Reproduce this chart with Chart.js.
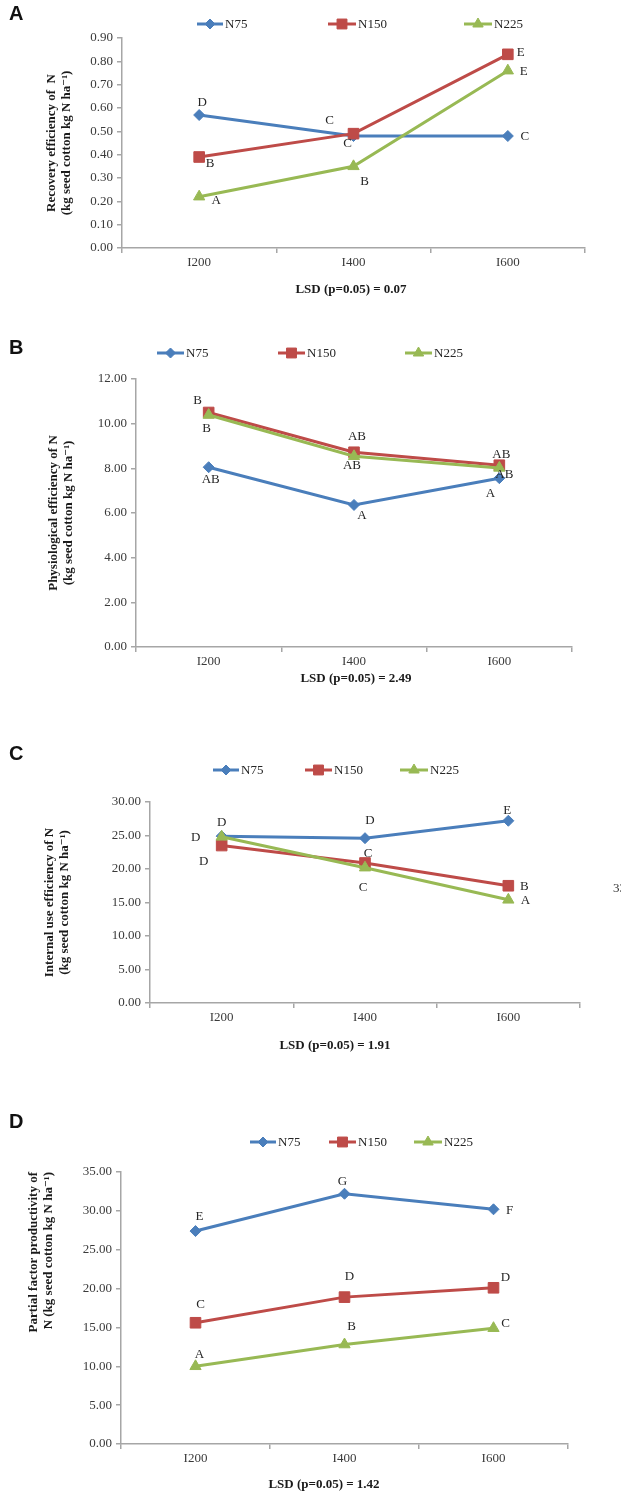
<!DOCTYPE html>
<html><head><meta charset="utf-8">
<script src="https://cdn.jsdelivr.net/npm/chart.js@4.4.1/dist/chart.umd.min.js"></script>
<style>
html,body{margin:0;padding:0;background:#fff;}
body{width:621px;height:1493px;position:relative;overflow:hidden;}
.panel{position:absolute;left:0;width:621px;}
canvas{display:block;}
.tag{position:absolute;left:9px;font:bold 20px "Liberation Sans",Arial,sans-serif;color:#111;line-height:20px;}
.pg{position:absolute;font:13px "Liberation Serif","Times New Roman",serif;color:#333;line-height:13px;white-space:nowrap;}
</style></head><body>
<div class="panel" style="top:0px"><canvas id="cA" width="621" height="300"></canvas></div>
<div class="panel" style="top:300px"><canvas id="cB" width="621" height="390"></canvas></div>
<div class="panel" style="top:690px"><canvas id="cC" width="621" height="370"></canvas></div>
<div class="panel" style="top:1060px"><canvas id="cD" width="621" height="433"></canvas></div>
<div class="tag" style="top:3px">A</div>
<div class="tag" style="top:337px">B</div>
<div class="tag" style="top:743px">C</div>
<div class="tag" style="top:1111px">D</div>
<div class="pg" style="left:613px;top:881px">33</div>
<script>
// ---------- data ----------
const categories = ['I200', 'I400', 'I600'];
const seriesNames = ['N75', 'N150', 'N225'];

// A: Recovery efficiency of N
const recN75  = [0.57, 0.48, 0.48];
const recN150 = [0.39, 0.49, 0.83];
const recN225 = [0.22, 0.35, 0.76];
const recLetN75  = ['D', 'C', 'C'];
const recLetN150 = ['B', 'C', 'E'];
const recLetN225 = ['A', 'B', 'E'];
const recTicks = [0, 0.1, 0.2, 0.3, 0.4, 0.5, 0.6, 0.7, 0.8, 0.9];
const recLsd = 'LSD (p=0.05) = 0.07';

// B: Physiological efficiency of N
const phyN75  = [8.05, 6.36, 7.56];
const phyN150 = [10.50, 8.72, 8.14];
const phyN225 = [10.39, 8.54, 8.02];
const phyLetN75  = ['AB', 'A', 'A'];
const phyLetN150 = ['B', 'AB', 'AB'];
const phyLetN225 = ['B', 'AB', 'AB'];
const phyTicks = [0, 2, 4, 6, 8, 10, 12];
const phyLsd = 'LSD (p=0.05) = 2.49';

// C: Internal use efficiency of N
const iueN75  = [24.9, 24.6, 27.2];
const iueN150 = [23.5, 20.9, 17.5];
const iueN225 = [24.8, 20.2, 15.4];
const iueLetN75  = ['D', 'D', 'E'];
const iueLetN150 = ['D', 'C', 'B'];
const iueLetN225 = ['D', 'C', 'A'];
const iueTicks = [0, 5, 10, 15, 20, 25, 30];
const iueLsd = 'LSD (p=0.05) = 1.91';

// D: Partial factor productivity of N
const pfpN75  = [27.4, 32.2, 30.2];
const pfpN150 = [15.6, 18.9, 20.1];
const pfpN225 = [10.0, 12.8, 14.9];
const pfpLetN75  = ['E', 'G', 'F'];
const pfpLetN150 = ['C', 'D', 'D'];
const pfpLetN225 = ['A', 'B', 'C'];
const pfpTicks = [0, 5, 10, 15, 20, 25, 30, 35];
const pfpLsd = 'LSD (p=0.05) = 1.42';

const yTitleA = ['Recovery efficiency of  N', '(kg seed cotton kg N ha\u207B\u00B9)'];
const yTitleB = ['Physiological efficiency of N', '(kg seed cotton kg N ha\u207B\u00B9)'];
const yTitleC = ['Internal use efficiency of N', '(kg seed cotton kg N ha\u207B\u00B9)'];
const yTitleD = ['Partial factor productivity of', 'N (kg seed cotton kg N ha\u207B\u00B9)'];

// ---------- styles / layout ----------
const SERIF = '"Liberation Serif", "Times New Roman", "DejaVu Serif", serif';
const seriesStyle = [
  {color: '#4a7ebb', pointStyle: 'rectRot', radius: 5.5, order: 3},
  {color: '#be4b48', pointStyle: 'rect', radius: 7.5, order: 2},
  {color: '#98b954', pointStyle: 'triangle', radius: 6.5, order: 1}
];
const AXIS = '#a6a6a6';
const TITLE_LH = 1.15;

const panels = [
  {id: 'cA', top: 0, h: 300, area: {l: 122, r: 585, t: 38, b: 248}, yTitleX: 52, yAlign: 'center',
   lsdPos: {x: 351, y: 290}, legend: {y: 24, items: [[197, 223], [328, 356], [464, 492]]},
   offsets: [[[3, -12], [-24, -15], [17, 1]], [[11, 7], [-6, 10], [13, -2]], [[17, 4], [11, 15], [16, 1]]]},
  {id: 'cB', top: 300, h: 390, area: {l: 136, r: 572, t: 379, b: 647}, yTitleX: 54, yAlign: 'center',
   lsdPos: {x: 356, y: 679}, legend: {y: 353, items: [[157, 184], [278, 305], [405, 432]]},
   offsets: [[[2, 12], [8, 11], [-9, 15]], [[-11, -12], [3, -16], [2, -11]], [[-2, 14], [-2, 9], [5, 7]]]},
  {id: 'cC', top: 690, h: 370, area: {l: 150, r: 580, t: 802, b: 1003}, yTitleX: 50, yAlign: 'center',
   lsdPos: {x: 335, y: 1046}, legend: {y: 770, items: [[213, 239], [305, 332], [400, 428]]},
   offsets: [[[0, -14], [5, -18], [-1, -10]], [[-18, 16], [3, -9], [16, 1]], [[-26, 1], [-2, 20], [17, 1]]]},
  {id: 'cD', top: 1060, h: 433, area: {l: 121, r: 568, t: 1172, b: 1444}, yTitleX: 34, yAlign: 'end',
   lsdPos: {x: 324, y: 1485}, legend: {y: 1142, items: [[250, 276], [329, 356], [414, 442]]},
   offsets: [[[4, -14], [-2, -12], [16, 1]], [[5, -18], [5, -21], [12, -10]], [[4, -12], [7, -18], [12, -5]]]}
];

const panelData = [
  {series: [recN75, recN150, recN225], letters: [recLetN75, recLetN150, recLetN225], ticks: recTicks, lsd: recLsd, yTitle: yTitleA},
  {series: [phyN75, phyN150, phyN225], letters: [phyLetN75, phyLetN150, phyLetN225], ticks: phyTicks, lsd: phyLsd, yTitle: yTitleB},
  {series: [iueN75, iueN150, iueN225], letters: [iueLetN75, iueLetN150, iueLetN225], ticks: iueTicks, lsd: iueLsd, yTitle: yTitleC},
  {series: [pfpN75, pfpN150, pfpN225], letters: [pfpLetN75, pfpLetN150, pfpLetN225], ticks: pfpTicks, lsd: pfpLsd, yTitle: yTitleD}
];

// ---------- plugin: significance letters, legend, LSD caption ----------
const annotPlugin = {
  id: 'annot',
  afterDatasetsDraw(chart, args, opts) {
    const ctx = chart.ctx;
    ctx.save();
    ctx.font = '13px ' + SERIF;
    ctx.fillStyle = '#262626';
    ctx.textAlign = 'center';
    ctx.textBaseline = 'middle';
    chart.data.datasets.forEach((ds, i) => {
      const meta = chart.getDatasetMeta(i);
      ds.letters.forEach((t, j) => {
        const p = meta.data[j];
        const o = opts.offsets[i][j];
        ctx.fillText(t, p.x + o[0], p.y + o[1]);
      });
    });
    ctx.restore();
  },
  afterDraw(chart, args, opts) {
    const ctx = chart.ctx;
    ctx.save();
    const ly = opts.legend.y - opts.top;
    chart.data.datasets.forEach((ds, i) => {
      const [x1, x2] = opts.legend.items[i];
      ctx.strokeStyle = ds.borderColor;
      ctx.lineWidth = 3;
      ctx.beginPath(); ctx.moveTo(x1, ly); ctx.lineTo(x2, ly); ctx.stroke();
      ctx.fillStyle = ds.backgroundColor;
      ctx.strokeStyle = ds.borderColor;
      ctx.lineWidth = 1;
      Chart.helpers.drawPoint(ctx, {pointStyle: ds.pointStyle, radius: ds.pointRadius - 0.5, rotation: 0, borderWidth: 1}, (x1 + x2) / 2, ly);
      ctx.fillStyle = '#262626';
      ctx.font = '13px ' + SERIF;
      ctx.textAlign = 'left';
      ctx.textBaseline = 'middle';
      ctx.fillText(ds.label, x2 + 2, ly + 0.5);
    });
    ctx.font = 'bold 13px ' + SERIF;
    ctx.fillStyle = '#1a1a1a';
    ctx.textAlign = 'center';
    ctx.textBaseline = 'middle';
    ctx.fillText(opts.lsd, opts.lsdPos.x, opts.lsdPos.y - opts.top);
    ctx.restore();
  }
};

// ---------- build charts ----------
panels.forEach((pl, k) => {
  const pd = panelData[k];
  const padLeft = pl.yTitleX - 13 * TITLE_LH / 2;
  const datasets = pd.series.map((vals, i) => ({
    label: seriesNames[i],
    data: vals,
    letters: pd.letters[i],
    borderColor: seriesStyle[i].color,
    backgroundColor: seriesStyle[i].color,
    pointStyle: seriesStyle[i].pointStyle,
    pointRadius: seriesStyle[i].radius,
    pointHoverRadius: seriesStyle[i].radius,
    pointBorderWidth: 1,
    borderWidth: 3,
    tension: 0,
    order: seriesStyle[i].order
  }));
  const yMax = pd.ticks[pd.ticks.length - 1];
  new Chart(document.getElementById(pl.id), {
    type: 'line',
    data: {labels: categories, datasets},
    options: {
      responsive: false,
      animation: false,
      devicePixelRatio: 1,
      layout: {padding: {left: padLeft, right: 621 - pl.area.r, top: pl.area.t - pl.top, bottom: pl.top + pl.h - pl.area.b - 30}},
      plugins: {
        legend: {display: false},
        tooltip: {enabled: false},
        annot: {offsets: pl.offsets, legend: pl.legend, top: pl.top, lsd: pd.lsd, lsdPos: pl.lsdPos}
      },
      scales: {
        x: {
          type: 'category',
          offset: true,
          grid: {offset: true, drawOnChartArea: false, drawTicks: true, tickLength: 5, color: AXIS, lineWidth: 1.5},
          border: {display: true, color: AXIS, width: 1.5},
          ticks: {color: '#3a3a3a', font: {family: SERIF, size: 13}, padding: 2, maxRotation: 0},
          afterFit(s) { s.height = 30; }
        },
        y: {
          min: 0, max: yMax,
          afterBuildTicks(s) { s.ticks = pd.ticks.map(v => ({value: v})); },
          grid: {drawOnChartArea: false, drawTicks: true, tickLength: 5, color: AXIS, lineWidth: 1.5},
          border: {display: true, color: AXIS, width: 1.5},
          ticks: {color: '#3a3a3a', font: {family: SERIF, size: 13}, padding: 4, callback: v => Number(v).toFixed(2)},
          title: {display: true, text: pd.yTitle, align: pl.yAlign, color: '#1a1a1a',
                  font: {family: SERIF, size: 13, weight: 'bold', lineHeight: TITLE_LH}, padding: {top: 0, bottom: 0}},
          afterFit(s) { s.width = pl.area.l - padLeft; }
        }
      }
    },
    plugins: [annotPlugin]
  });
});
</script>
</body></html>
